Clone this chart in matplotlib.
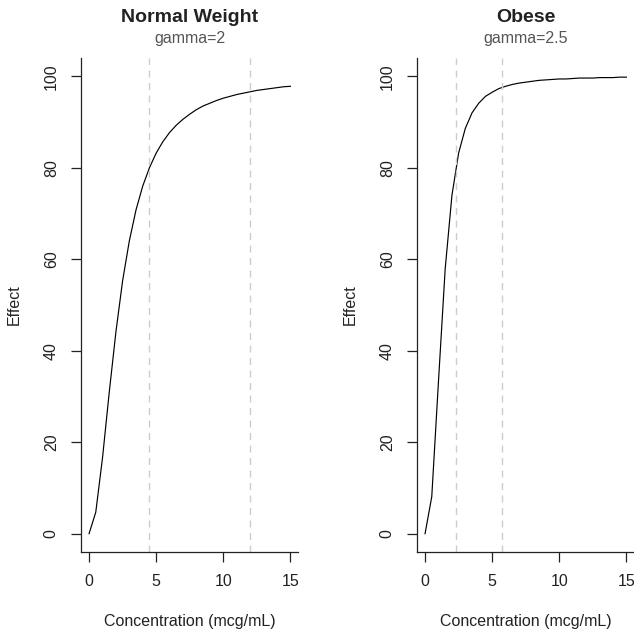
import matplotlib
matplotlib.use("Agg")
import matplotlib.pyplot as plt
import numpy as np

plt.rcParams['font.family'] = ['Liberation Sans', 'DejaVu Sans']

# concentration grid (mcg/mL)
conc = np.arange(0, 15.01, 0.5)

# effect
effect_normal = [0.0, 4.7, 16.5, 30.8, 44.1, 55.3, 64.0, 70.8, 76.0, 80.0,
                 83.2, 85.7, 87.7, 89.3, 90.6, 91.7, 92.7, 93.5, 94.1, 94.7,
                 95.2, 95.6, 96.0, 96.3, 96.6, 96.9, 97.1, 97.3, 97.5, 97.7,
                 97.8]
effect_obese = [0.0, 8.1, 33.3, 57.9, 73.9, 83.2, 88.6, 92.0, 94.1, 95.6,
                96.5, 97.3, 97.8, 98.2, 98.5, 98.7, 98.9, 99.1, 99.2, 99.3,
                99.4, 99.4, 99.5, 99.6, 99.6, 99.6, 99.7, 99.7, 99.7, 99.8,
                99.8]

# reference lines (EC80 / EC97)
vlines_normal = [4.5, 12.0]
vlines_obese = [2.3, 5.75]

titles = ["Normal Weight", "Obese"]
subtitles = ["gamma=2", "gamma=2.5"]

fig = plt.figure(figsize=(6.34, 6.31), dpi=100)
lefts = [81 / 634, 417 / 634]
panels = [(effect_normal, vlines_normal), (effect_obese, vlines_obese)]

for i, (eff, vl) in enumerate(panels):
    ax = fig.add_axes([lefts[i], 0.1252, 0.343, 0.783])
    ax.plot(conc, eff, color='black', lw=0.85)
    for v in vl:
        ax.axvline(v, color='#cccccc', ls=(0, (5, 4)), lw=1)
    ax.set_xlim(-0.6, 15.6)
    ax.set_ylim(-4, 104)
    ax.set_xticks([0, 5, 10, 15])
    ax.set_yticks([0, 20, 40, 60, 80, 100])
    ax.spines['top'].set_visible(False)
    ax.spines['right'].set_visible(False)
    for s in ['left', 'bottom']:
        ax.spines[s].set_linewidth(0.9)
        ax.spines[s].set_color('#222222')
    ax.tick_params(direction='out', length=7, width=0.9, labelsize=11.5,
                   colors='#222222', pad=9)
    plt.setp(ax.get_yticklabels(), rotation=90, va='center')
    ax.set_xlabel("Concentration (mcg/mL)", fontsize=11.5, labelpad=18,
                  color='#222222')
    ax.set_ylabel("Effect", fontsize=11.5, labelpad=16, color='#222222')
    ax.text(0.5, 1.081, titles[i], transform=ax.transAxes, ha='center',
            va='center', fontsize=14, fontweight='bold', color='#222222')
    ax.text(0.5, 1.039, subtitles[i], transform=ax.transAxes, ha='center',
            va='center', fontsize=11.5, color='#555555')

fig.savefig("out.png", dpi=100)
plt.close()
